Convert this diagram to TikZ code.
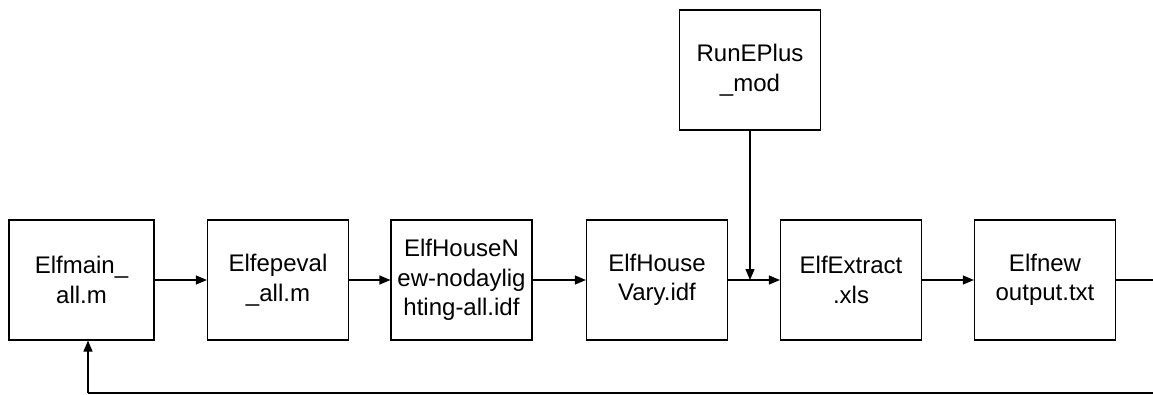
\documentclass[tikz,border=0pt]{standalone}
\usepackage{fontspec}
\setmainfont{Liberation Sans}
\usepackage{tikz}
\usetikzlibrary{arrows.meta,positioning,calc}
\tikzset{
  stepbox/.style={rectangle, draw=black, fill=white, line width=1.2pt, minimum width=141pt, minimum height=120pt, inner sep=0pt, align=center, font=\fontsize{24}{29.5}\selectfont},
  flow/.style={line width=1.2pt, -{Triangle[length=11pt,width=9pt]}},
  plain/.style={line width=1.2pt}
}
\begin{document}
\begin{tikzpicture}[x=1pt,y=1pt]
  \useasboundingbox (0,0) rectangle (1153,-394);
  \clip (0,0) rectangle (1153,-394);
  % main chain of files
  \node[stepbox,minimum width=145pt] (main) at (81.5,-280) {Elfmain\_\\all.m};
  \node[stepbox] (eval) at (278,-280) {Elfepeval\\\_all.m};
  \node[stepbox] (newidf) at (461.5,-280) {ElfHouseN\\ew-nodaylig\\hting-all.idf};
  \node[stepbox] (vary) at (657,-280) {ElfHouse\\Vary.idf};
  \node[stepbox] (extract) at (851,-280) {ElfExtract\\.xls};
  \node[stepbox] (output) at (1045,-280) {Elfnew\\output.txt};
  \draw[flow] (main)--(eval);
  \draw[flow] (eval)--(newidf);
  \draw[flow] (newidf)--(vary);
  \draw[flow] (vary)--(extract);
  \draw[flow] (extract)--(output);

  % simulation run feeding in from above
  \node[stepbox] (run) at (750,-70) {RunEPlus\\\_mod};
  \draw[flow] (run.south)--(run.south |- vary.east);

  % loop back to the start
  \coordinate (rt) at (1162,-280);
  \coordinate (lb) at (88,-393);
  \draw[plain] (output.east)--(rt) |- (lb);
  \draw[flow] (lb)--(lb |- main.south);
\end{tikzpicture}
\end{document}
